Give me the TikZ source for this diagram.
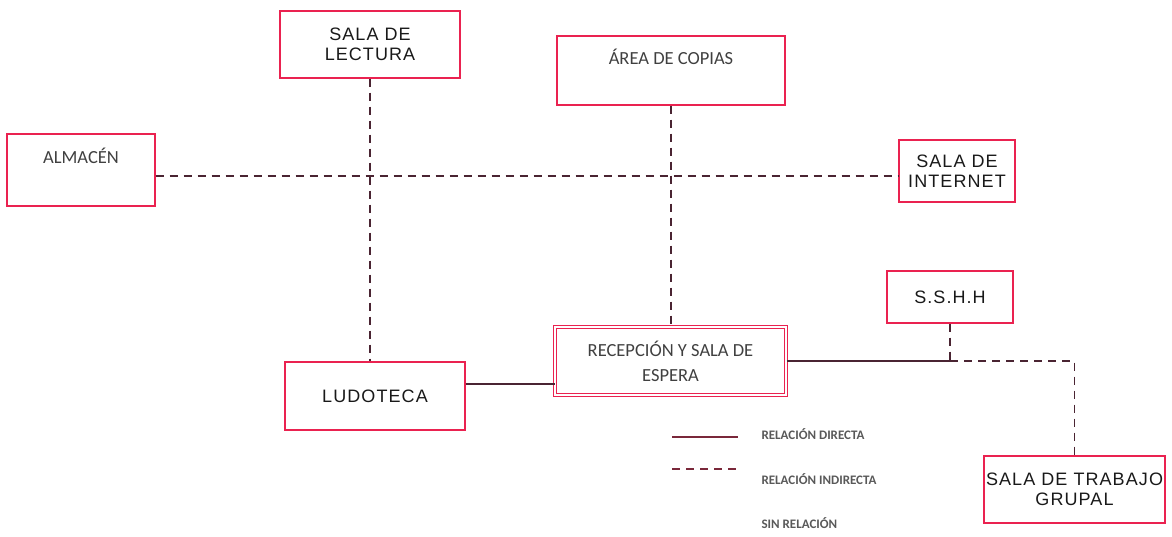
\documentclass[tikz,border=0pt]{standalone}
\usepackage{fontspec}
\setmainfont{Carlito}
\newfontfamily\cadfont[LetterSpace=6]{Liberation Sans}
\definecolor{boxred}{RGB}{234,34,80}
\definecolor{linkline}{RGB}{74,36,50}
\definecolor{keyline}{RGB}{122,40,58}
\tikzset{
  room/.style={draw=boxred, line width=1.4pt, inner sep=0pt, align=center},
  cadroom/.style={room, font=\cadfont\fontsize{18}{20}\selectfont, text=black!90},
  textroom/.style={room, font=\fontsize{18.5}{25}\selectfont, text=black!75},
  roomlabel/.style={anchor=center, font=\fontsize{18.5}{21}\selectfont, text=black!75},
  direct/.style={draw=linkline, line width=1.4pt},
  indirect/.style={draw=linkline, line width=1.4pt, dash pattern=on 8pt off 6pt},
  keytext/.style={anchor=west, font=\bfseries\fontsize{13}{15}\selectfont, text=black!65}
}
\begin{document}
\begin{tikzpicture}[x=1pt,y=-1pt]
\useasboundingbox (0,0) rectangle (1172,536);

\node[cadroom, minimum width=180pt, minimum height=67pt] (lectura) at (370,44.5) {SALA DE\\LECTURA};
\node[room, minimum width=228pt, minimum height=69pt,
  label={[roomlabel, label distance=-22pt]north:ÁREA DE COPIAS}] (copias) at (671,70.5) {};
\node[room, minimum width=148pt, minimum height=72pt,
  label={[roomlabel, label distance=-23pt]north:ALMACÉN}] (almacen) at (81,170) {};
\node[cadroom, minimum width=116pt, minimum height=62pt] (internet) at (957,171) {SALA DE\\INTERNET};
\node[cadroom, minimum width=126pt, minimum height=52pt] (sshh) at (950,297) {S.S.H.H};
\node[textroom, minimum width=231pt, minimum height=68pt, double=white, double distance=2.5pt, line width=1pt] (recepcion) at (670.5,361) {RECEPCIÓN Y SALA DE\\ESPERA};
\node[cadroom, minimum width=180pt, minimum height=68pt] (ludoteca) at (375,396) {LUDOTECA};
\node[cadroom, minimum width=181pt, minimum height=67pt] (trabajo) at (1074.5,489.5) {SALA DE TRABAJO\\GRUPAL};

\draw[indirect] (lectura.south) -- (lectura.south |- ludoteca.north);
\draw[indirect] ([yshift=-6pt]almacen.east) -- ([yshift=-6pt]almacen.east -| internet.west);
\draw[indirect] (copias.south) -- (copias.south |- recepcion.north);
\draw[direct] ([yshift=12pt]ludoteca.east) -- ([yshift=12pt]ludoteca.east -| recepcion.west);
\coordinate (split) at (recepcion.east -| sshh.south);
\draw[direct] (recepcion.east) -- (split);
\draw[indirect] (sshh.south) -- (split);
\draw[indirect] (split) -| (trabajo.north);

\coordinate (keyA) at (672,437);
\coordinate (keyB) at (738,437);
\coordinate (keyC) at (672,469);
\coordinate (keyD) at (738,469);
\draw[direct, draw=keyline] (keyA) -- (keyB);
\draw[indirect, draw=keyline] (keyC) -- (keyD);
\node[keytext] (kdirect) at (758,434) {RELACIÓN DIRECTA};
\node[keytext] (kindirect) at (758,479) {RELACIÓN INDIRECTA};
\node[keytext] (knone) at (758,523) {SIN RELACIÓN};
\end{tikzpicture}
\end{document}
